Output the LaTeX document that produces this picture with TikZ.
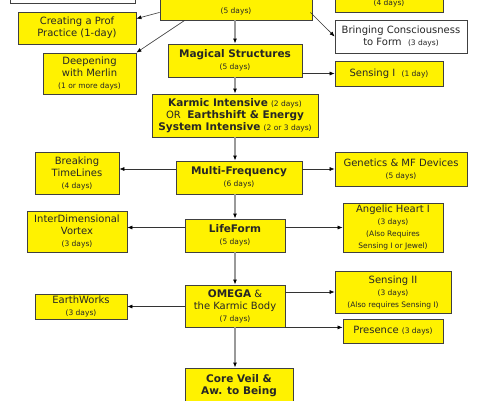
\documentclass[tikz,border=0pt]{standalone}
\usepackage{fontspec}
\setmainfont{DejaVu Sans}
\usetikzlibrary{arrows.meta,positioning,calc}
\newcommand{\smallf}{\fontsize{7.5}{9}\selectfont}
\newcommand{\dys}[1]{{\smallf #1}}
\newcommand{\bigb}[1]{{\fontsize{10.5}{12}\selectfont\bfseries #1}}

\begin{document}
\begin{tikzpicture}[
    x=1pt, y=-1pt,
    font=\fontsize{10}{12}\selectfont,
    box/.style={draw=black!75, line width=0.8pt, fill=yellow, text=black!85, align=center, inner sep=1pt},
    wbox/.style={box, fill=white},
    arr/.style={-{Latex[length=5pt,width=4pt,color=black]}, black!80, line width=0.6pt},
    varr/.style={-{Latex[length=5pt,width=4pt,color=black]}, black!40, line width=1.2pt}
]
\useasboundingbox (0,0) rectangle (486,400);
\clip (0,0) rectangle (486,400);

% top row, cut by the page edge
\node[wbox, minimum width=125pt, minimum height=33pt] (prev) at (72.5,-13.5) {};
\node[box, minimum width=152pt, minimum height=40pt,
      label={[font=\smallf, text=black!85, anchor=south, yshift=2pt]south:(5 days)}] (top) at (236,0) {};
\node[box, minimum width=108pt, minimum height=40pt,
      label={[font=\smallf, text=black!85, anchor=south, yshift=2pt]south:(4 days)}] (topr) at (389,-8) {};

% side courses
\node[box, minimum width=118pt, minimum height=32pt] (prof) at (77,28) {Creating a Prof\\Practice (1-day)};
\node[box, minimum width=93pt, minimum height=41pt] (merlin) at (89.5,73.5) {Deepening\\with Merlin\\\dys{(1 or more days)}};
\node[wbox, minimum width=132pt, minimum height=33pt] (form) at (401,36.5) {Bringing Consciousness\\to Form \ \dys{(3 days)}};
\node[box, minimum width=108pt, minimum height=25pt] (sens1) at (389,73.5) {Sensing I \ \dys{(1 day)}};
\node[box, minimum width=84pt, minimum height=42pt] (time) at (77,173) {Breaking\\TimeLines\\\dys{(4 days)}};
\node[box, minimum width=132pt, minimum height=34pt] (genes) at (401,169) {Genetics \& MF Devices\\\dys{(5 days)}};
\node[box, minimum width=100pt, minimum height=41pt] (vortex) at (77,231.5) {InterDimensional\\Vortex\\\dys{(3 days)}};
\node[box, minimum width=100pt, minimum height=49pt] (angel) at (393,227.5) {Angelic Heart I\\\dys{(3 days)}\\\dys{(Also Requires}\\\dys{Sensing I or Jewel)}};
\node[box, minimum width=116pt, minimum height=42pt] (sens2) at (393,292) {Sensing II\\\dys{(3 days)}\\\dys{(Also requires Sensing I)}};
\node[box, minimum width=100pt, minimum height=24pt] (pres) at (393,331) {Presence \dys{(3 days)}};
\node[box, minimum width=92pt, minimum height=25pt] (earth) at (81,306.5) {EarthWorks\\\dys{(3 days)}};

% main line
\node[box, minimum width=134pt, minimum height=33pt] (magic) at (235,60.5) {\bigb{Magical Structures}\\\dys{(5 days)}};
\node[box, minimum width=166pt, minimum height=43pt] (karma) at (235,115.5) {\bigb{Karmic Intensive} \dys{(2 days)}\\OR \ \bigb{Earthshift \& Energy}\\\bigb{System Intensive} \dys{(2 or 3 days)}};
\node[box, minimum width=126pt, minimum height=33pt] (multi) at (239,177.5) {\bigb{Multi-Frequency}\\\dys{(6 days)}};
\node[box, minimum width=100pt, minimum height=33pt] (life) at (235,235.5) {\bigb{LifeForm}\\\dys{(5 days)}};
\node[box, minimum width=100pt, minimum height=42pt] (omega) at (235,306) {\bigb{OMEGA} \&\\the Karmic Body\\\dys{(7 days)}};
\node[box, minimum width=108pt, minimum height=36pt] (veil) at (239,386) {\bigb{Core Veil \&}\\\bigb{Aw. to Being}};

% vertical connectors
\draw[varr] (top.south -| magic.north) -- (magic.north);
\draw[varr] (magic.south) -- (karma.north);
\draw[varr] (karma.south) -- (karma.south |- multi.north);
\draw[varr] (life.north |- multi.south) -- (life.north);
\draw[varr] (life.south) -- (omega.north);
\draw[varr] (omega.south) -- (omega.south |- veil.north);

% side connectors
\draw[arr] ($(top.south west)+(0,-8)$) -- ($(prof.north east)+(0,7)$);
\draw[arr] ($(top.south west)+(25,0)$) -- (merlin.north east);
\draw[arr] ($(top.south east)+(-2,-8)$) -- (form.west);
\draw[arr] (magic.east |- sens1.west) -- (sens1.west);
\draw[arr] (multi.west |- genes.west) -- (time.east |- genes.west);
\draw[arr] (multi.east |- genes.west) -- (genes.west);
\draw[arr] (life.west |- angel.west) -- (vortex.east |- angel.west);
\draw[arr] (life.east |- angel.west) -- (angel.west);
\draw[arr] (omega.west |- earth.east) -- (earth.east);
\draw[arr] (omega.east |- sens2.west) -- (sens2.west);
\draw[arr] (omega.south east) -- (pres.west |- omega.south east);
\end{tikzpicture}
\end{document}
